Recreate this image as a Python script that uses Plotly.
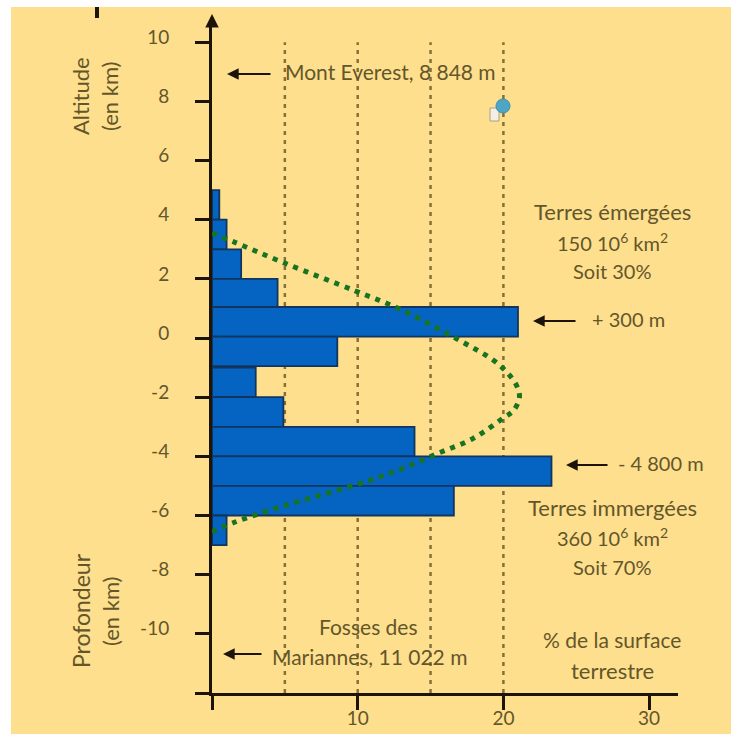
import plotly.graph_objects as go

# Hypsometric histogram
bin_centers = [4.5, 3.5, 2.5, 1.5, 0.55, -0.45, -1.5, -2.5, -3.5, -4.5, -5.5, -6.5]
bin_percent = [0.5, 1.0, 2.0, 4.5, 21.0, 8.6, 3.0, 4.9, 13.9, 23.3, 16.6, 1.0]

curve_percent = [0.0, 1.5, 4.9, 9.8, 12.8, 16.7, 19.7, 20.9, 21.1, 20.7, 20.0, 17.9, 15.5, 13.1, 10.6, 4.9, 1.7, 0.0]
curve_alt = [3.55, 3.25, 2.55, 1.6, 1.0, 0.0, -0.9, -1.6, -2.0, -2.45, -2.7, -3.4, -3.9, -4.4, -4.85, -5.68, -6.2, -6.55]

grid_x = [5, 10, 15, 20]
x_ticks = [0, 10, 20, 30]
x_labels = ["", "10", "20", "30"]
y_ticks = [10, 8, 6, 4, 2, 0, -2, -4, -6, -8, -10, -12]
y_labels = ["10", "8", "6", "4", "2", "0", "-2", "-4", "-6", "-8", "-10", ""]

W, H = 733, 734
L, R, T, B = 212, 55, 25, 41
PW, PH = W - L - R, H - T - B
def px(v): return (v - L) / PW
def py(v): return (H - B - v) / PH

CREAM = "#FEDF8D"
TXT = "#64562B"
INK = "#1C1408"
FONT = "Lato"

fig = go.Figure()
fig.add_bar(y=bin_centers, x=bin_percent, orientation="h", width=1.0,
            marker=dict(color="#0563C1", line=dict(color="#12345E", width=1.8)))
fig.add_scatter(x=curve_percent, y=curve_alt, mode="lines",
                line=dict(color="#17741F", width=5, shape="spline", dash="5px,6px"),
                cliponaxis=False)

shapes = [
    dict(type="rect", xref="paper", yref="paper", x0=px(11), x1=px(731), y0=py(734), y1=py(7),
         fillcolor=CREAM, line=dict(width=0), layer="below"),
    dict(type="line", xref="paper", yref="paper", x0=px(97), x1=px(97), y0=py(18), y1=py(7),
         line=dict(color=INK, width=4), layer="above"),
    # small cursor icon in the screenshot
    dict(type="rect", xref="paper", yref="paper", x0=px(490), x1=px(499), y0=py(121), y1=py(108),
         fillcolor="#F4EFE2", line=dict(color="#A89F85", width=1), layer="above"),
    dict(type="circle", xref="paper", yref="paper", x0=px(496), x1=px(510), y0=py(113), y1=py(99),
         fillcolor="#4FA6C4", line=dict(color="#3C8FB0", width=1), layer="above"),
]
for g in grid_x:
    shapes.append(dict(type="line", xref="x", yref="y", x0=g, x1=g, y0=-12, y1=10,
                       line=dict(color="#85703A", width=2.5, dash="4px,5px"), layer="below"))

def text(t, x, y, size=21, angle=0, anchor="center"):
    return dict(text=t, xref="paper", yref="paper", x=px(x), y=py(y - 1.5 if angle == 0 else y), showarrow=False,
                xanchor=anchor, yanchor="middle", textangle=angle,
                font=dict(family=FONT, size=size, color=TXT))

def arrow(x_tip, x_tail, y):
    return dict(text="", xref="paper", yref="paper", x=px(x_tip), y=py(y),
                axref="pixel", ayref="pixel", ax=x_tail - x_tip, ay=0, showarrow=True,
                arrowhead=2, arrowsize=1.3, arrowwidth=1.8, arrowcolor=INK)

annotations = [
    text("Mont Everest, 8 848 m", 283, 73, anchor="left"),
    text("+ 300 m", 590, 320, size=20, anchor="left"),
    text("- 4 800 m", 616, 464, size=20, anchor="left"),
    text("Fosses des", 368, 628),
    text("Mariannes, 11 022 m", 270, 658, anchor="left"),
    text("Terres émergées", 612, 213, size=22),
    text("150 10<sup>6</sup> km<sup>2</sup>", 612, 243, size=20),
    text("Soit 30%", 612, 272, size=20),
    text("Terres immergées", 612, 509, size=22),
    text("360 10<sup>6</sup> km<sup>2</sup>", 612, 538, size=20),
    text("Soit 70%", 612, 568, size=20),
    text("% de la surface", 612, 641, size=21),
    text("terrestre", 612, 672, size=22),
    text("Altitude", 81, 96, size=22, angle=-90),
    text("(en km)", 110, 96, size=22, angle=-90),
    text("Profondeur", 81, 611, size=23, angle=-90),
    text("(en km)", 110, 611, size=22, angle=-90),
    arrow(227, 272, 74),
    arrow(533, 577, 321),
    arrow(566, 609, 465),
    arrow(223, 263, 654),
    dict(text="", xref="paper", yref="paper", x=px(212), y=py(14),
         axref="pixel", ayref="pixel", ax=0, ay=14, showarrow=True,
         arrowhead=2, arrowsize=0.9, arrowwidth=3, arrowcolor=INK),
]

fig.update_layout(
    width=W, height=H, margin=dict(l=L, r=R, t=T, b=B), autosize=False,
    paper_bgcolor="white", plot_bgcolor="rgba(0,0,0,0)",
    showlegend=False, shapes=shapes, annotations=annotations,
    font=dict(family=FONT, size=19, color=TXT),
    xaxis=dict(range=[0, PW / 14.57], tickmode="array", tickvals=x_ticks, ticktext=x_labels,
               ticks="outside", ticklen=14, tickwidth=3, tickcolor=INK, automargin=False,
               showline=True, linewidth=3, linecolor=INK, showgrid=False, zeroline=False,
               ticklabelstandoff=-8,
               tickfont=dict(family=FONT, size=19, color=TXT)),
    yaxis=dict(range=[-12, (H - B - T) / 29.58 - 12], tickmode="array", tickvals=y_ticks, ticktext=y_labels,
               ticks="outside", ticklen=14, tickwidth=3, tickcolor=INK, automargin=False,
               showline=True, linewidth=3, linecolor=INK, showgrid=False, zeroline=False,
               ticklabelstandoff=22, ticklabelshift=-5,
               tickfont=dict(family=FONT, size=19, color=TXT)),
)
fig.write_html("out.html", config={"displayModeBar": False},
               post_script="document.body.style.margin='0';")
